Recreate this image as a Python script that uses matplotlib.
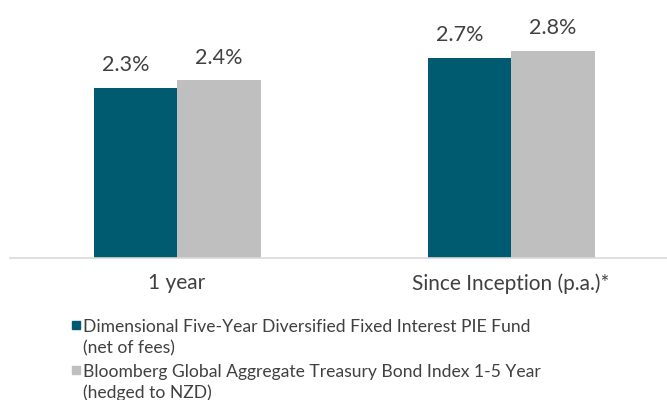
import matplotlib.pyplot as plt
from matplotlib.patches import Rectangle
import numpy as np

plt.rcParams['font.family'] = ['Lato', 'DejaVu Sans']

categories = ['1 year', 'Since Inception (p.a.)*']
fund = [2.3, 2.7]
index = [2.4, 2.8]
labels = ['Dimensional Five-Year Diversified Fixed Interest PIE Fund\n(net of fees)',
          'Bloomberg Global Aggregate Treasury Bond Index 1-5 Year\n(hedged to NZD)']

teal = '#005B70'
grey = '#BFBFBF'
txt = '#404040'
W, H = 667, 400

fig = plt.figure(figsize=(6.67, 4), dpi=100)
ax = fig.add_axes([10/W, 142/H, 657/W, 248/H])

x = np.arange(len(categories))
w = 0.25
b1 = ax.bar(x - w/2, fund, w, color=teal)
b2 = ax.bar(x + w/2, index, w, color=grey)

# etiquettes des valeurs
for xi, v in zip(x - w/2, fund):
    ax.annotate('%.1f%%' % v, (xi, v), xytext=(-7, 12), textcoords='offset points',
                ha='center', va='baseline', fontsize=15.5, color=txt)
for xi, v in zip(x + w/2, index):
    ax.annotate('%.1f%%' % v, (xi, v), xytext=(0, 12), textcoords='offset points',
                ha='center', va='baseline', fontsize=15.5, color=txt)

ax.set_xlim(-0.5, 1.467)
ax.set_ylim(0, 3.35)
ax.set_xticks(x)
ax.set_xticklabels(categories, fontsize=15, color=txt)
ax.tick_params(axis='x', length=0, pad=11)
ax.set_yticks([])
for s in ['top', 'right', 'left']:
    ax.spines[s].set_visible(False)
ax.spines['bottom'].set_color('#D9D9D9')
ax.spines['bottom'].set_linewidth(1.2)

# legende faite a la main (carre aligne sur la premiere ligne)
couleurs = [teal, grey]
base_y = [332, 377]
for lab, c, by in zip(labels, couleurs, base_y):
    fig.patches.append(Rectangle((72/W, 1 - (by - 3)/H), 8/W, 8/H, color=c,
                                 transform=fig.transFigure, figure=fig))
    for k, ligne in enumerate(lab.split('\n')):
        fig.text(83/W, 1 - (by + 21*k)/H, ligne, ha='left', va='baseline',
                 fontsize=12.6, color=txt)

plt.savefig('out.png', dpi=100)
